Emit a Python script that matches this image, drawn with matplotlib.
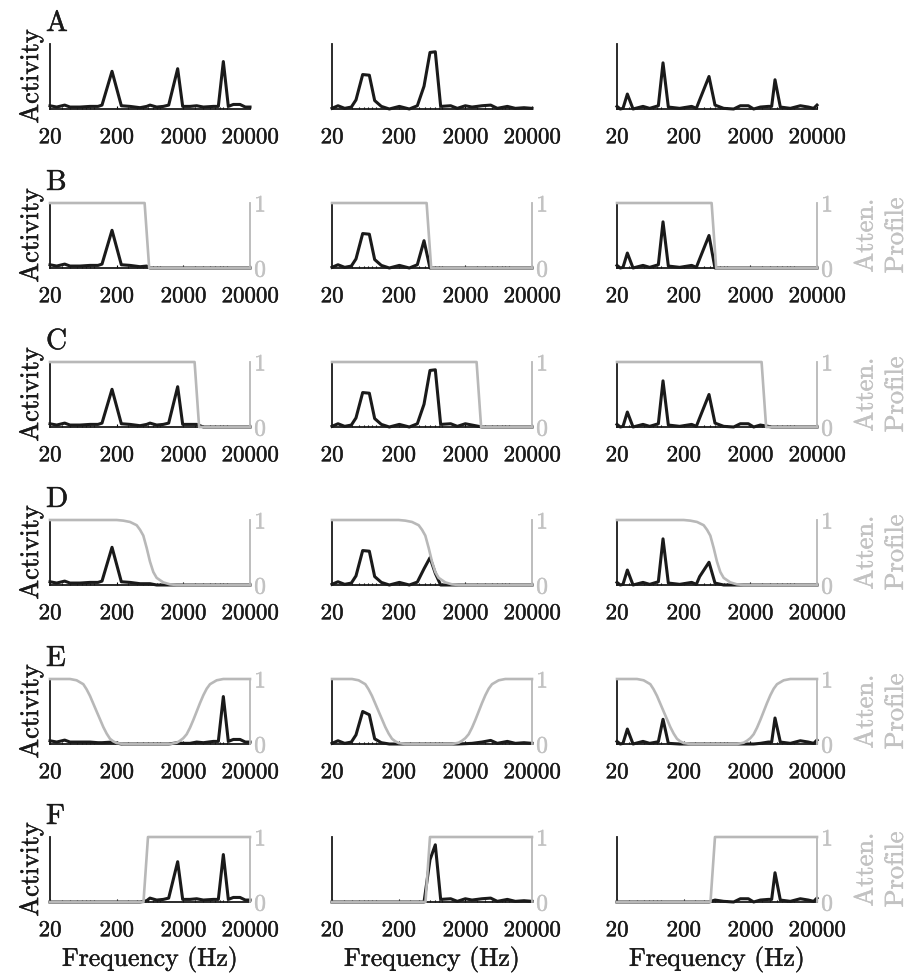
import matplotlib.pyplot as plt
import matplotlib.patheffects as pe
from matplotlib.text import Text
from matplotlib.ticker import LogLocator, NullFormatter

plt.rcParams['font.family'] = 'cmr10'
plt.rcParams['mathtext.fontset'] = 'cm'
plt.rcParams['axes.unicode_minus'] = False

# frequency points (Hz) for each column
freq_1 = [20, 25.2, 33.2, 39.9, 56.4, 79.6, 105, 120.5, 170.3, 235, 317, 448, 564, 632, 796,
          1002, 1206, 1645, 1955, 2518, 3170, 3991, 5637, 6700, 7962, 9460, 11247, 14159, 17024, 20000]
freq_2 = [20, 24.6, 31.0, 39.0, 45.8, 57.7, 72.6, 87.3, 109.9, 144.9, 204.7, 289, 381, 480, 590,
          709, 853, 1205, 1517, 2000, 2518, 3557, 4797, 6039, 8530, 11247, 15170, 20000]
freq_3 = [20, 22.4, 24.6, 28.6, 34.8, 49.1, 61.8, 83.4, 98.0, 117.8, 174.2, 263.7, 309.8, 347.5, 479.8,
          590, 796, 1125, 1416, 1867, 2244, 2825, 3724, 4179, 4689, 5637, 7962, 11247, 14823, 17825, 20000]

# activity, column 1
act_A1 = [0.05, 0.03, 0.06, 0.03, 0.03, 0.04, 0.04, 0.06, 0.58, 0.05, 0.04, 0.02, 0.04, 0.06, 0.03,
          0.04, 0.06, 0.62, 0.04, 0.04, 0.05, 0.03, 0.04, 0.04, 0.73, 0.04, 0.07, 0.07, 0.03, 0.03]
act_B1 = [0.05, 0.03, 0.06, 0.03, 0.03, 0.04, 0.04, 0.06, 0.58, 0.05, 0.04, 0.02, 0.03, 0, 0,
          0, 0, 0, 0, 0, 0, 0, 0, 0, 0, 0, 0, 0, 0, 0]
act_C1 = [0.05, 0.03, 0.06, 0.03, 0.03, 0.04, 0.04, 0.06, 0.58, 0.05, 0.04, 0.02, 0.04, 0.06, 0.03,
          0.04, 0.06, 0.62, 0.04, 0.04, 0.04, 0, 0, 0, 0, 0, 0, 0, 0, 0]
act_D1 = [0.05, 0.03, 0.06, 0.03, 0.03, 0.04, 0.04, 0.06, 0.58, 0.05, 0.04, 0.02, 0.02, 0.02, 0,
          0, 0, 0, 0, 0, 0, 0, 0, 0, 0, 0, 0, 0, 0, 0]
act_E1 = [0.05, 0.03, 0.06, 0.03, 0.03, 0.03, 0.02, 0.02, 0.03, 0, 0, 0, 0, 0, 0,
          0, 0, 0.02, 0.01, 0.01, 0.03, 0.02, 0.04, 0.04, 0.73, 0.04, 0.07, 0.07, 0.03, 0.03]
act_F1 = [0, 0, 0, 0, 0, 0, 0, 0, 0, 0, 0, 0, 0.02, 0.06, 0.03,
          0.04, 0.06, 0.62, 0.04, 0.04, 0.05, 0.03, 0.04, 0.04, 0.73, 0.04, 0.07, 0.07, 0.03, 0.03]

# activity, column 2
act_A2 = [0.01, 0.05, 0.01, 0.03, 0.14, 0.53, 0.52, 0.13, 0.04, 0.0, 0.04, 0.0, 0.05, 0.35,
          0.87, 0.88, 0.04, 0.05, 0.01, 0.05, 0.03, 0.05, 0.06, 0.01, 0.04, 0.01, 0.02, 0.01]
act_B2 = [0.01, 0.05, 0.01, 0.03, 0.14, 0.53, 0.52, 0.13, 0.04, 0.0, 0.04, 0.0, 0.05, 0.42,
          0, 0, 0, 0, 0, 0, 0, 0, 0, 0, 0, 0, 0, 0]
act_C2 = [0.01, 0.05, 0.01, 0.03, 0.14, 0.53, 0.52, 0.13, 0.04, 0.0, 0.04, 0.0, 0.05, 0.35,
          0.87, 0.88, 0.04, 0.05, 0.01, 0.05, 0.03, 0.0, 0, 0, 0, 0, 0, 0]
act_D2 = [0.01, 0.05, 0.01, 0.03, 0.14, 0.53, 0.52, 0.13, 0.04, 0.0, 0.04, 0.0, 0.045, 0.25,
          0.42, 0.18, 0, 0, 0, 0, 0, 0, 0, 0, 0, 0, 0, 0]
act_E2 = [0.01, 0.05, 0.01, 0.03, 0.14, 0.5, 0.45, 0.08, 0.02, 0, 0, 0, 0, 0,
          0, 0, 0, 0, 0, 0.005, 0.01, 0.03, 0.055, 0.01, 0.04, 0.01, 0.02, 0.01]
act_F2 = [0, 0, 0, 0, 0, 0, 0, 0, 0, 0, 0, 0, 0, 0,
          0.65, 0.88, 0.04, 0.05, 0.01, 0.05, 0.03, 0.05, 0.06, 0.01, 0.04, 0.01, 0.02, 0.01]

# activity, column 3
act_A3 = [0.04, 0.0, 0.01, 0.23, 0.0, 0.04, 0.01, 0.05, 0.71, 0.03, 0.01, 0.04, 0.01, 0.14, 0.5, 0.06,
          0.01, 0.0, 0.05, 0.05, 0.0, 0.03, 0.04, 0.04, 0.45, 0.03, 0.01, 0.05, 0.03, 0.01, 0.06]
act_B3 = [0.04, 0.0, 0.01, 0.23, 0.0, 0.04, 0.01, 0.05, 0.71, 0.03, 0.01, 0.04, 0.01, 0.14, 0.5, 0,
          0, 0, 0, 0, 0, 0, 0, 0, 0, 0, 0, 0, 0, 0, 0]
act_C3 = [0.04, 0.0, 0.01, 0.23, 0.0, 0.04, 0.01, 0.05, 0.71, 0.03, 0.01, 0.04, 0.01, 0.14, 0.5, 0.06,
          0.01, 0.0, 0.05, 0.05, 0.0, 0.03, 0.01, 0, 0, 0, 0, 0, 0, 0, 0]
act_D3 = [0.04, 0.0, 0.01, 0.23, 0.0, 0.04, 0.01, 0.05, 0.71, 0.03, 0.01, 0.04, 0.01, 0.13, 0.35, 0.03,
          0, 0, 0, 0, 0, 0, 0, 0, 0, 0, 0, 0, 0, 0, 0]
act_E3 = [0.04, 0.0, 0.01, 0.23, 0.0, 0.04, 0.01, 0.035, 0.38, 0.01, 0, 0, 0, 0, 0, 0,
          0, 0, 0, 0, 0, 0.01, 0.03, 0.03, 0.4, 0.03, 0.01, 0.05, 0.03, 0.01, 0.06]
act_F3 = [0, 0, 0, 0, 0, 0, 0, 0, 0, 0, 0, 0, 0, 0, 0, 0.03,
          0.01, 0.0, 0.05, 0.05, 0.0, 0.03, 0.04, 0.04, 0.45, 0.03, 0.01, 0.05, 0.03, 0.01, 0.06]

# attenuation profiles
prof_B_f = [20, 525, 615, 20000]
prof_B_v = [1, 1, 0, 0]
prof_C_f = [20, 2950, 3450, 20000]
prof_C_v = [1, 1, 0, 0]
prof_D_f = [20, 200, 252, 317, 399, 448, 502, 564, 632, 709, 796, 1002, 1262, 1589, 20000]
prof_D_v = [1, 1, 0.99, 0.97, 0.92, 0.85, 0.76, 0.57, 0.36, 0.2, 0.11, 0.04, 0.01, 0, 0]
prof_E_f = [20, 39.9, 50.2, 63.2, 70.9, 79.6, 89.3, 100.2, 112.5, 126.2, 141.6, 158.9, 178.3, 200, 252,
            1262, 1589, 1783, 2000, 2244, 2518, 2825, 3170, 3557, 3991, 4478, 5024, 6325, 7962, 20000]
prof_E_v = [1, 1, 0.98, 0.92, 0.84, 0.74, 0.62, 0.5, 0.38, 0.26, 0.16, 0.08, 0.04, 0.015, 0,
            0, 0.02, 0.05, 0.09, 0.15, 0.25, 0.37, 0.5, 0.63, 0.75, 0.85, 0.92, 0.98, 1, 1]
prof_F_f = [20, 505, 590, 20000]
prof_F_v = [0, 0, 1, 1]

tick_pos = [20, 200, 2000, 20000]
tick_labels = ['20', '200', '2000', '20000']

rows = ['A', 'B', 'C', 'D', 'E', 'F']
freqs = [freq_1, freq_2, freq_3]
acts = {'A': [act_A1, act_A2, act_A3], 'B': [act_B1, act_B2, act_B3], 'C': [act_C1, act_C2, act_C3],
        'D': [act_D1, act_D2, act_D3], 'E': [act_E1, act_E2, act_E3], 'F': [act_F1, act_F2, act_F3]}
profiles = {'B': (prof_B_f, prof_B_v), 'C': (prof_C_f, prof_C_v), 'D': (prof_D_f, prof_D_v),
            'E': (prof_E_f, prof_E_v), 'F': (prof_F_f, prof_F_v)}

black = '#1a1a1a'
gray = '#b8b8b8'
gray_txt = '#c2c2c2'

W, H = 914, 974
fig = plt.figure(figsize=(W / 100, H / 100), dpi=100)
lefts = [50, 332, 617]
bottoms = [109, 268, 427, 585, 744, 902]

for r, row in enumerate(rows):
    for c in range(3):
        ax = fig.add_axes([lefts[c] / W, 1 - bottoms[r] / H, 200 / W, 65 / H])
        ax.plot(freqs[c], acts[row][c], color=black, lw=2.2, clip_on=False, zorder=3)
        ax.set_xscale('log')
        ax.set_xlim(20, 20000)
        ax.set_ylim(0, 1)
        ax.set_xticks(tick_pos)
        ax.set_xticklabels(tick_labels)
        ax.xaxis.set_minor_locator(LogLocator(base=10, subs=[2, 3, 4, 5, 6, 7, 8, 9]))
        ax.xaxis.set_minor_formatter(NullFormatter())
        ax.tick_params(axis='x', which='major', direction='in', length=2.5, width=0.8,
                       labelsize=16.5, pad=13.5, labelcolor=black)
        ax.tick_params(axis='x', which='minor', direction='in', length=1.8, width=0.8)
        ax.set_yticks([])
        for s in ['top', 'right']:
            ax.spines[s].set_visible(False)
        for s in ['left', 'bottom']:
            ax.spines[s].set_linewidth(1.3)
            ax.spines[s].set_color(black)
        if c == 0:
            ax.set_ylabel('Activity', fontsize=19, labelpad=5, color=black)
            ax.text(-0.02, 1.2, row, transform=ax.transAxes, fontsize=21,
                    ha='left', va='baseline', color=black)
        if r == len(rows) - 1:
            ax.set_xlabel('Frequency (Hz)', fontsize=18.5, labelpad=4, color=black)

        if row in profiles:
            pf, pv = profiles[row]
            ax2 = ax.twinx()
            ax2.plot(pf, pv, color=gray, lw=1.9, clip_on=False)
            ax2.set_ylim(0, 1)
            ax2.set_yticks([0, 1])
            ax2.set_yticklabels(['0', '1'])
            ax2.tick_params(axis='y', colors=gray_txt, labelsize=17, length=0, pad=3)
            for s in ['top', 'left', 'bottom']:
                ax2.spines[s].set_visible(False)
            ax2.spines['right'].set_color(gray)
            ax2.spines['right'].set_linewidth(1.3)
            if c == 2:
                ax2.set_ylabel('Atten.\nProfile', fontsize=19, color=gray_txt,
                               labelpad=15, linespacing=1.35)

# thicken the thin Computer Modern strokes slightly
for t in fig.findobj(Text):
    if t.get_text():
        t.set_path_effects([pe.withStroke(linewidth=0.3, foreground=t.get_color())])

fig.savefig('out.png', dpi=100)
